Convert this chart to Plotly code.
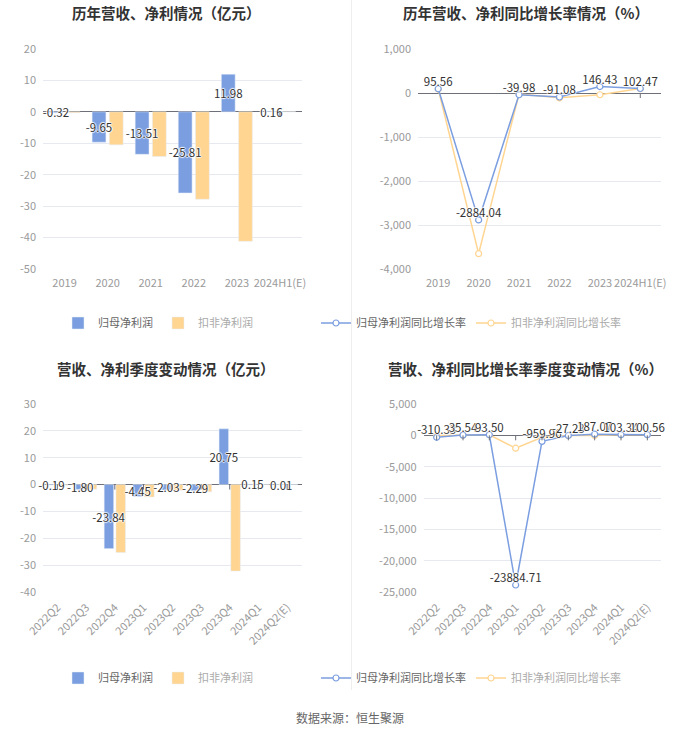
import plotly.graph_objects as go

# ---------------- data ----------------
years = ["2019", "2020", "2021", "2022", "2023", "2024H1(E)"]
annual_parent = [-0.32, -9.65, -13.51, -25.81, 11.98, 0.16]
annual_deducted = [-0.30, -10.5, -14.2, -27.8, -41.2, 0.15]
annual_parent_yoy = [95.56, -2884.04, -39.98, -91.08, 146.43, 102.47]
annual_deducted_yoy = [90, -3650, -25, -110, -40, 100]

quarters = ["2022Q2", "2022Q3", "2022Q4", "2023Q1", "2023Q2", "2023Q3",
            "2023Q4", "2024Q1", "2024Q2(E)"]
q_parent = [-0.19, -1.80, -23.84, -4.45, -2.03, -2.29, 20.75, 0.15, 0.01]
q_deducted = [-0.25, -1.7, -25.3, -4.6, -2.1, -2.7, -32.2, 0.12, 0.01]
q_parent_yoy = [-310.33, 35.54, 93.50, -23884.71, -959.96, -27.23, 187.07, 103.34, 100.56]
q_deducted_yoy = [-20, 30, 90, -2050, -300, -20, -30, 100, 100]

tl_ticks = [20, 10, 0, -10, -20, -30, -40, -50]
tl_ticktext = ["20", "10", "0", "-10", "-20", "-30", "-40", "-50"]
tr_ticks = [1000, 0, -1000, -2000, -3000, -4000]
tr_ticktext = ["1,000", "0", "-1,000", "-2,000", "-3,000", "-4,000"]
bl_ticks = [30, 20, 10, 0, -10, -20, -30, -40]
bl_ticktext = ["30", "20", "10", "0", "-10", "-20", "-30", "-40"]
br_ticks = [5000, 0, -5000, -10000, -15000, -20000, -25000]
br_ticktext = ["5,000", "0", "-5,000", "-10,000", "-15,000", "-20,000", "-25,000"]

titles = ["历年营收、净利情况（亿元）", "历年营收、净利同比增长率情况（%）",
          "营收、净利季度变动情况（亿元）", "营收、净利同比增长率季度变动情况（%）"]
bar_names = ["归母净利润", "扣非净利润"]
line_names = ["归母净利润同比增长率", "扣非净利润同比增长率"]
source_text = "数据来源：恒生聚源"

# ---------------- style ----------------
W, H = 700, 734
BLUE = "#7b9ee0"
ORANGE = "#ffd591"
GRID = "#e6e9f0"
AXIS = "#6e7079"
TICK = "#9a9a9a"
FONT = "Noto Sans CJK SC, Microsoft YaHei, sans-serif"
SHADOW = "1px 0 1px #fff, -1px 0 1px #fff, 0 1px 1px #fff, 0 -1px 1px #fff"


def px_x(p):
    return p / W


def px_y(p):
    return 1 - p / H


def fmt(v):
    return f"{v:.2f}"


fig = go.Figure()

# ---- top-left bars (orange first so blue labels sit on top) ----
fig.add_trace(go.Bar(
    x=years, y=annual_deducted, name=f'<span style="color:#aaa">{bar_names[1]}</span>',
    marker_color=ORANGE, width=0.32, offset=0.04, xaxis="x", yaxis="y",
    legend="legend", legendrank=2))
fig.add_trace(go.Bar(
    x=years, y=annual_parent, name=bar_names[0], marker_color=BLUE,
    width=0.32, offset=-0.36, xaxis="x", yaxis="y", legend="legend", legendrank=1,
    text=[fmt(v) for v in annual_parent], textposition="inside",
    insidetextanchor="middle", constraintext="none", textangle=0,
    insidetextfont=dict(color="#333", size=11.5, family=FONT, shadow=SHADOW),
    cliponaxis=False))

# ---- top-right lines ----
fig.add_trace(go.Scatter(
    x=years, y=annual_deducted_yoy, name=f'<span style="color:#aaa">{line_names[1]}</span>',
    mode="lines+markers", line=dict(color=ORANGE, width=1.5),
    marker=dict(symbol="circle", size=6, color="white", line=dict(color=ORANGE, width=1.2)),
    xaxis="x2", yaxis="y2", legend="legend2", legendrank=2, cliponaxis=False))
fig.add_trace(go.Scatter(
    x=years, y=annual_parent_yoy, name=line_names[0], mode="lines+markers",
    line=dict(color=BLUE, width=1.5),
    marker=dict(symbol="circle", size=6, color="white", line=dict(color=BLUE, width=1.2)),
    xaxis="x2", yaxis="y2", legend="legend2", legendrank=1, cliponaxis=False))
fig.add_trace(go.Scatter(
    x=years, y=annual_parent_yoy, mode="text", text=[fmt(v) for v in annual_parent_yoy],
    textposition="top center", showlegend=False,
    textfont=dict(color="#333", size=11.5, family=FONT, shadow=SHADOW),
    xaxis="x2", yaxis="y2", cliponaxis=False))

# ---- bottom-left bars ----
fig.add_trace(go.Bar(
    x=quarters, y=q_deducted, name=f'<span style="color:#aaa">{bar_names[1]}</span>',
    marker_color=ORANGE, width=0.33, offset=0.04, xaxis="x3", yaxis="y3",
    legend="legend3", legendrank=2))
fig.add_trace(go.Bar(
    x=quarters, y=q_parent, name=bar_names[0], marker_color=BLUE,
    width=0.33, offset=-0.37, xaxis="x3", yaxis="y3", legend="legend3", legendrank=1,
    text=[fmt(v) for v in q_parent], textposition="inside",
    insidetextanchor="middle", constraintext="none", textangle=0,
    insidetextfont=dict(color="#333", size=11.5, family=FONT, shadow=SHADOW),
    cliponaxis=False))

# ---- bottom-right lines ----
fig.add_trace(go.Scatter(
    x=quarters, y=q_deducted_yoy, name=f'<span style="color:#aaa">{line_names[1]}</span>',
    mode="lines+markers", line=dict(color=ORANGE, width=1.5),
    marker=dict(symbol="circle", size=6, color="white", line=dict(color=ORANGE, width=1.2)),
    xaxis="x4", yaxis="y4", legend="legend4", legendrank=2, cliponaxis=False))
fig.add_trace(go.Scatter(
    x=quarters, y=q_parent_yoy, name=line_names[0], mode="lines+markers",
    line=dict(color=BLUE, width=1.5),
    marker=dict(symbol="circle", size=6, color="white", line=dict(color=BLUE, width=1.2)),
    xaxis="x4", yaxis="y4", legend="legend4", legendrank=1, cliponaxis=False))
fig.add_trace(go.Scatter(
    x=quarters, y=q_parent_yoy, mode="text", text=[fmt(v) for v in q_parent_yoy],
    textposition="top center", showlegend=False,
    textfont=dict(color="#333", size=11.5, family=FONT, shadow=SHADOW),
    xaxis="x4", yaxis="y4", cliponaxis=False))


# ---------------- axes ----------------
def xaxis(domain, anchor, cats, angle=0):
    return dict(domain=domain, anchor=anchor, type="category", showgrid=False,
                categoryorder="array", categoryarray=cats, automargin=False,
                range=[-0.5, len(cats) - 0.5],
                showline=False, zeroline=False, ticks="", tickangle=angle,
                tickfont=dict(color=TICK, size=11, family=FONT),
                ticklabelstandoff=6)


def yaxis(domain, anchor, rng, tv, tt):
    return dict(domain=domain, anchor=anchor, range=rng, tickvals=tv, ticktext=tt,
                automargin=False,
                showgrid=True, gridcolor=GRID, gridwidth=1, zeroline=True,
                zerolinecolor=AXIS, zerolinewidth=1, showline=False, ticks="",
                tickfont=dict(color=TICK, size=11, family=FONT), ticklabelstandoff=6)


top_y = [px_y(269), px_y(49)]
bot_y = [px_y(592), px_y(404)]

fig.update_layout(
    xaxis=xaxis([px_x(43), px_x(301.5)], "y", years),
    yaxis=yaxis(top_y, "x", [-50, 20], tl_ticks, tl_ticktext),
    xaxis2=xaxis([px_x(418), px_x(660.5)], "y2", years),
    yaxis2=yaxis(top_y, "x2", [-4000, 1000], tr_ticks, tr_ticktext),
    xaxis3=xaxis([px_x(43), px_x(301.5)], "y3", quarters, -45),
    yaxis3=yaxis(bot_y, "x3", [-40, 30], bl_ticks, bl_ticktext),
    xaxis4=xaxis([px_x(423.5), px_x(660.5)], "y4", quarters, -45),
    yaxis4=yaxis(bot_y, "x4", [-25000, 5000], br_ticks, br_ticktext),
)

# axis ticks hanging from the zero line
shapes = []
for xa, ya, cats in [("x", "y", years), ("x2", "y2", years),
                     ("x3", "y3", quarters), ("x4", "y4", quarters)]:
    for c in cats:
        shapes.append(dict(type="line", xref=xa, yref=ya, x0=c, x1=c,
                           ysizemode="pixel", yanchor=0, y0=0, y1=-5,
                           line=dict(color=AXIS, width=1), layer="above"))
# divider
shapes.append(dict(type="line", xref="paper", yref="paper", x0=px_x(351.5), x1=px_x(351.5),
                   y0=px_y(690), y1=px_y(0), line=dict(color="#eeeeee", width=1)))

annotations = []
for t, cx, cy in zip(titles, [166, 526, 166, 525.5], [13, 13, 368, 368]):
    annotations.append(dict(text=f"<b>{t}</b>", x=px_x(cx), y=px_y(cy), xref="paper",
                            yref="paper", showarrow=False, xanchor="center",
                            yanchor="middle", font=dict(size=14.5, color="#333", family=FONT)))
annotations.append(dict(text=source_text, x=0.5, y=px_y(717), xref="paper", yref="paper",
                        showarrow=False, xanchor="center", yanchor="middle",
                        font=dict(size=12, color="#666", family=FONT)))


def legend(cx, cy):
    return dict(orientation="h", x=px_x(cx), y=px_y(cy), xanchor="center", yanchor="middle",
                font=dict(size=11, color="#666", family=FONT), bgcolor="rgba(0,0,0,0)",
                itemwidth=30, tracegroupgap=0, traceorder="normal")


fig.update_layout(
    width=W, height=H, margin=dict(l=0, r=0, t=0, b=0, autoexpand=False),
    paper_bgcolor="white", plot_bgcolor="white",
    barmode="group", showlegend=True,
    font=dict(family=FONT),
    shapes=shapes, annotations=annotations,
    legend=legend(158, 323), legend2=legend(471, 323),
    legend3=legend(158, 678), legend4=legend(471, 678),
    uniformtext=dict(mode="show", minsize=11),
)

fig.write_html("out.html")
